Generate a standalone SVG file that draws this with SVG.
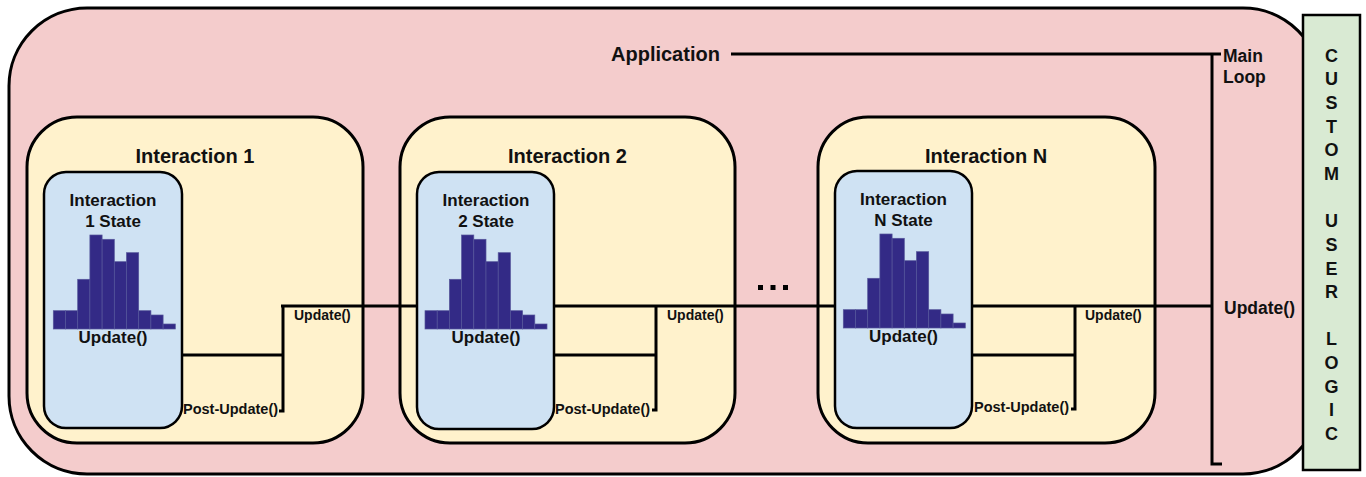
<svg xmlns="http://www.w3.org/2000/svg" xmlns:xlink="http://www.w3.org/1999/xlink" width="1366" height="477" viewBox="0 0 1366 477">
<style>
text{font-family:"Liberation Sans",Arial,sans-serif;font-weight:bold;fill:#111}
.app{fill:#f4cccc;stroke:#000;stroke-width:3}
.inter{fill:#fff2cc;stroke:#000;stroke-width:3}
.state{fill:#cfe2f3;stroke:#000;stroke-width:2.5}
.logic{fill:#d9ead3;stroke:#000;stroke-width:2.5}
.ln{fill:none;stroke:#000;stroke-width:3}
.bar{fill:#332a86;stroke:#55559a;stroke-width:0.7}
.t1{font-size:20px;text-anchor:middle}
.t2{font-size:17px;text-anchor:middle}
.sm{font-size:14px}
.ml{font-size:17.5px}
.cl{font-size:18px;text-anchor:middle}
</style>
<defs>
<g id="hist">
<rect class="bar" x="0" y="-18.3" width="12.2" height="18.3"/>
<rect class="bar" x="12.2" y="-18.3" width="12.2" height="18.3"/>
<rect class="bar" x="24.4" y="-49.7" width="12.2" height="49.7"/>
<rect class="bar" x="36.6" y="-94" width="12.2" height="94"/>
<rect class="bar" x="48.8" y="-89.7" width="12.2" height="89.7"/>
<rect class="bar" x="61" y="-67.3" width="12.2" height="67.3"/>
<rect class="bar" x="73.2" y="-76.3" width="12.2" height="76.3"/>
<rect class="bar" x="85.4" y="-18.3" width="12.2" height="18.3"/>
<rect class="bar" x="97.6" y="-14" width="12.2" height="14"/>
<rect class="bar" x="109.8" y="-5" width="12.2" height="5"/>
</g>
</defs>

<g id="application">
<rect class="app" x="9" y="8" width="1312" height="466" rx="78" ry="78"/>
<text x="611" y="61" style="font-size:20px">Application</text>
</g>

<g id="interaction-1">
<rect class="inter" x="27" y="117" width="336" height="326" rx="50" ry="50"/>
<text class="t1" x="195" y="163">Interaction 1</text>
</g>
<g id="interaction-2">
<rect class="inter" x="400" y="117" width="335" height="326" rx="50" ry="50"/>
<text class="t1" x="567.5" y="163">Interaction 2</text>
</g>
<g id="interaction-n">
<rect class="inter" x="818" y="117" width="337" height="326" rx="50" ry="50"/>
<text class="t1" x="986" y="163">Interaction N</text>
</g>

<g id="connectors">
<path class="ln" d="M731 54 H1221"/>
<path class="ln" d="M1212 54 V464 H1222"/>
<path class="ln" d="M281 306 H417"/>
<path class="ln" d="M554 306 H835"/>
<path class="ln" d="M972 306 H1212"/>
<path class="ln" d="M182 355 H283"/>
<path class="ln" d="M283 306 V411 H279"/>
<path class="ln" d="M554 355 H656"/>
<path class="ln" d="M656 306 V410 H652"/>
<path class="ln" d="M972 355 H1075"/>
<path class="ln" d="M1075 306 V409 H1071"/>
</g>

<g id="state-1">
<rect class="state" x="44" y="172" width="138" height="256" rx="22" ry="22"/>
<text class="t2" x="113" y="206">Interaction</text>
<text class="t2" x="113" y="227">1 State</text>
<use xlink:href="#hist" x="53.3" y="329"/>
<text class="t2" x="113" y="343">Update()</text>
</g>
<g id="state-2">
<rect class="state" x="417" y="172" width="137" height="257" rx="22" ry="22"/>
<text class="t2" x="486" y="206">Interaction</text>
<text class="t2" x="486" y="227">2 State</text>
<use xlink:href="#hist" x="425" y="329"/>
<text class="t2" x="486" y="343">Update()</text>
</g>
<g id="state-n">
<rect class="state" x="835" y="171" width="137" height="257" rx="22" ry="22"/>
<text class="t2" x="903.5" y="205">Interaction</text>
<text class="t2" x="903.5" y="226">N State</text>
<use xlink:href="#hist" x="843.3" y="328"/>
<text class="t2" x="903.5" y="342">Update()</text>
</g>

<g id="labels">
<text class="sm" x="294" y="320">Update()</text>
<text class="sm" x="667" y="320">Update()</text>
<text class="sm" x="1085" y="320">Update()</text>
<text class="sm" x="183" y="414" style="font-size:14.5px">Post-Update()</text>
<text class="sm" x="555" y="414" style="font-size:14.5px">Post-Update()</text>
<text class="sm" x="974" y="412" style="font-size:14.5px">Post-Update()</text>
<text class="ml" x="1223" y="62">Main</text>
<text class="ml" x="1223" y="83">Loop</text>
<text x="1224" y="314" style="font-size:17.5px">Update()</text>
<g id="dots" fill="#000">
<rect x="758" y="285" width="5" height="5"/>
<rect x="770.5" y="285" width="5" height="5"/>
<rect x="783" y="285" width="5" height="5"/>
</g>
</g>

<g id="custom-user-logic">
<rect class="logic" x="1303" y="15" width="57" height="455"/>
<text class="cl" x="1331.5" y="61.7">C</text>
<text class="cl" x="1331.5" y="85.3">U</text>
<text class="cl" x="1331.5" y="109">S</text>
<text class="cl" x="1331.5" y="132.6">T</text>
<text class="cl" x="1331.5" y="156.3">O</text>
<text class="cl" x="1331.5" y="179.9">M</text>
<text class="cl" x="1331.5" y="227.2">U</text>
<text class="cl" x="1331.5" y="250.8">S</text>
<text class="cl" x="1331.5" y="274.5">E</text>
<text class="cl" x="1331.5" y="298.1">R</text>
<text class="cl" x="1331.5" y="345.4">L</text>
<text class="cl" x="1331.5" y="369">O</text>
<text class="cl" x="1331.5" y="392.7">G</text>
<text class="cl" x="1331.5" y="416.3">I</text>
<text class="cl" x="1331.5" y="440">C</text>
</g>
</svg>
